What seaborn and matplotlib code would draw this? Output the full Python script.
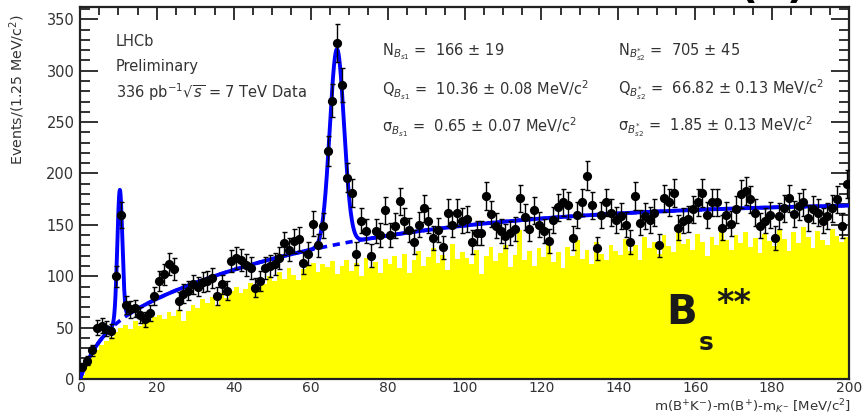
import numpy as np
import pandas as pd
import matplotlib
matplotlib.use("Agg")
import matplotlib.pyplot as plt
import seaborn as sns
from matplotlib.ticker import MultipleLocator

# ---------------- data ----------------
BIN_WIDTH = 1.25
bin_edges = np.arange(0, 200 + BIN_WIDTH / 2, BIN_WIDTH)
bin_centers = bin_edges[:-1] + BIN_WIDTH / 2

data_counts = [
    12, 18, 28, 50, 52, 49, 47, 100, 160, 72, 68, 69, 62, 58, 64, 81,
    95, 102, 112, 107, 76, 83, 86, 92, 90, 94, 95, 98, 81, 92, 86, 115,
    118, 116, 111, 108, 89, 95, 108, 110, 112, 118, 132, 126, 134, 136, 113, 122,
    151, 130, 149, 222, 271, 327, 286, 196, 181, 122, 154, 144, 120, 144, 140, 164,
    140, 149, 173, 154, 145, 133, 150, 166, 154, 137, 145, 128, 162, 150, 162, 154,
    156, 133, 142, 142, 178, 161, 149, 144, 139, 142, 146, 176, 158, 146, 164, 150,
    144, 134, 155, 167, 172, 169, 137, 160, 172, 198, 169, 127, 160, 172, 162, 155,
    159, 150, 133, 178, 152, 159, 155, 162, 130, 176, 172, 181, 147, 154, 156, 165,
    172, 181, 160, 172, 172, 147, 160, 151, 165, 180, 183, 175, 162, 149, 154, 160,
    137, 159, 166, 176, 161, 168, 172, 157, 165, 162, 154, 159, 166, 175, 149, 190,
]

yellow_counts = [
    4, 14, 22, 28, 33, 37, 41, 46, 50, 53, 49, 56, 52, 58, 55, 60,
    62, 58, 65, 61, 67, 56, 66, 72, 69, 78, 74, 80, 71, 84, 79, 86,
    90, 84, 88, 93, 86, 98, 92, 100, 95, 104, 97, 108, 101, 96, 107, 111,
    113, 104, 112, 109, 115, 102, 110, 116, 105, 113, 100, 118, 108, 114, 103, 117,
    112, 120, 108, 122, 103, 116, 125, 110, 119, 127, 113, 121, 106, 131, 117, 124,
    118, 112, 126, 102, 120, 128, 115, 123, 130, 109, 121, 145, 116, 125, 110, 127,
    119, 131, 114, 124, 108, 128, 120, 135, 117, 126, 112, 133, 122, 116, 130, 125,
    121, 136, 125, 130, 116, 138, 127, 133, 122, 140, 129, 124, 144, 131, 136, 126,
    141, 133, 120, 138, 130, 146, 135, 126, 140, 132, 143, 128, 137, 123, 141, 134,
    129, 145, 136, 125, 143, 132, 148, 138, 127, 144, 135, 130, 146, 139, 133, 138,
]

# fit results (signal peaks) and background shape parameters
N_sig = [166, 705]
Q_sig = [10.36, 66.82]
S_sig = [0.65, 1.85]
bkg_amp = [40.0, 133.0]
bkg_scale = [5.0, 58.0]

x_fit = np.linspace(0, 200, 4001)
bkg = sum(a * (1 - np.exp(-x_fit / c)) for a, c in zip(bkg_amp, bkg_scale))
sig = sum(n * BIN_WIDTH / (s * np.sqrt(2 * np.pi)) * np.exp(-0.5 * ((x_fit - q) / s) ** 2)
          for n, q, s in zip(N_sig, Q_sig, S_sig))
total = bkg + sig

df_hist = pd.DataFrame({"x": bin_centers, "w": yellow_counts})
df_data = pd.DataFrame({"x": bin_centers, "y": data_counts})
df_fit = pd.DataFrame({"x": x_fit, "total": total, "bkg": bkg})

# ---------------- figure ----------------
sns.set_style("ticks")
plt.rcParams["font.family"] = ["DejaVu Sans"]
plt.rcParams["mathtext.fontset"] = "dejavusans"

fig = plt.figure(figsize=(8.63, 4.16), dpi=100)
ax = fig.add_axes([80 / 863, 1 - 379 / 416, 769 / 863, 372 / 416])

sns.histplot(data=df_hist, x="x", weights="w", binwidth=BIN_WIDTH, binrange=(0, 200),
             element="step", fill=True, color="#ffff00", alpha=1.0, linewidth=0,
             ax=ax, zorder=1)

sns.lineplot(data=df_fit, x="x", y="bkg", color="#0000ff", lw=2.6,
             linestyle=(0, (2.0, 1.6)), ax=ax, zorder=3)
sns.lineplot(data=df_fit, x="x", y="total", color="#0000ff", lw=2.8, ax=ax, zorder=4)

err = np.sqrt(np.array(data_counts, dtype=float))
ax.errorbar(df_data["x"], df_data["y"], yerr=err, fmt="none", ecolor="black",
            elinewidth=1.0, capsize=1.8, capthick=1.0, zorder=5)
sns.scatterplot(data=df_data, x="x", y="y", color="black", s=44, edgecolor="black",
                linewidth=0, ax=ax, zorder=6)

ax.set_xlim(0, 200)
ax.set_ylim(0, 362)
ax.set_xlabel("")
ax.set_ylabel("")

ax.xaxis.set_major_locator(MultipleLocator(20))
ax.xaxis.set_minor_locator(MultipleLocator(5))
ax.yaxis.set_major_locator(MultipleLocator(50))
ax.yaxis.set_minor_locator(MultipleLocator(10))
ax.tick_params(axis="both", which="both", direction="in", top=True, right=True,
               colors="#222222", labelcolor="#333333", width=1.3)
ax.tick_params(axis="x", which="major", length=9.5, labelsize=10, pad=1.5)
ax.tick_params(axis="x", which="minor", length=5.5)
ax.tick_params(axis="y", which="major", length=13, labelsize=10.5, pad=4)
ax.tick_params(axis="y", which="minor", length=7)
for sp in ax.spines.values():
    sp.set_linewidth(1.6)
    sp.set_color("#222222")

# axis titles
fig.text(17 / 863, 1 - 14 / 416, "Events/(1.25 MeV/c$^{2}$)", rotation=90,
         ha="center", va="top", fontsize=10.3, color="#333333")
fig.text(851 / 863, 1 - 415.5 / 416,
         "m(B$^{+}$K$^{-}$)-m(B$^{+}$)-m$_{K^{-}}$ [MeV/c$^{2}$]",
         ha="right", va="bottom", fontsize=9.6, color="#333333")

# labels in the plot
tc = "#333333"
fig.text(116 / 863, 1 - 41 / 416, "LHCb", fontsize=10.5, color=tc, va="center")
fig.text(116 / 863, 1 - 66 / 416, "Preliminary", fontsize=10.5, color=tc, va="center")
fig.text(116 / 863, 1 - 92 / 416, "336 pb$^{-1}$$\\sqrt{s}$ = 7 TeV Data", fontsize=10.5,
         color=tc, va="center")

col1 = [
    "N$_{B_{s1}}$ =  166 ± 19",
    "Q$_{B_{s1}}$ =  10.36 ± 0.08 MeV/c$^{2}$",
    "σ$_{B_{s1}}$ =  0.65 ± 0.07 MeV/c$^{2}$",
]
col2 = [
    "N$_{B^{*}_{s2}}$ =  705 ± 45",
    "Q$_{B^{*}_{s2}}$ =  66.82 ± 0.13 MeV/c$^{2}$",
    "σ$_{B^{*}_{s2}}$ =  1.85 ± 0.13 MeV/c$^{2}$",
]
rows_y = [52, 90, 127]
for t, yy in zip(col1, rows_y):
    fig.text(382 / 863, 1 - yy / 416, t, fontsize=10.5, color=tc, va="center")
for t, yy in zip(col2, rows_y):
    fig.text(618 / 863, 1 - yy / 416, t, fontsize=10.5, color=tc, va="center")

# big B_s** label
fig.text(666 / 863, 1 - 313 / 416, "B", fontsize=29, fontweight="bold",
         color="#1a1a1a", va="center", ha="left")
fig.text(699 / 863, 1 - 343 / 416, "s", fontsize=18, fontweight="bold",
         color="#1a1a1a", va="center", ha="left")
fig.text(716 / 863, 1 - 303 / 416, "**", fontsize=24, fontweight="bold",
         color="#1a1a1a", va="center", ha="left")

# partially visible panel tag (cut by the top edge, as in the reference)
fig.text(772 / 863, 1 + 14 / 416, "(b)", fontsize=30, fontweight="bold",
         color="black", va="center", ha="center")

fig.savefig("out.png", dpi=100)
